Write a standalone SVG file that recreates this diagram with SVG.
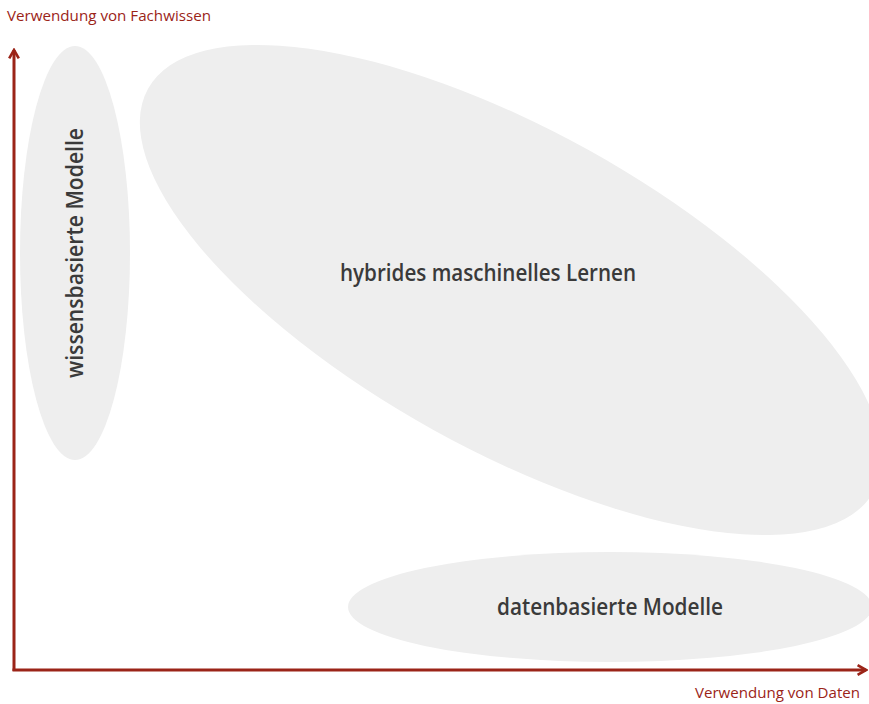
<svg xmlns="http://www.w3.org/2000/svg" width="869" height="704" viewBox="0 0 869 704">
  <style>
    .region { fill: #eeeeee; }
    .region-label { font-family: "Open Sans", "Liberation Sans", Arial, sans-serif; font-weight: 600; font-size: 24px; fill: #3a3a3a; text-anchor: middle; }
    .axis-label { font-family: "Open Sans", "Liberation Sans", Arial, sans-serif; font-size: 15px; fill: #9b2418; }
    .axis { stroke: #9b2418; stroke-width: 3; fill: none; }
  </style>
  <defs>
    <marker id="chevron" viewBox="0 0 10 10" refX="8" refY="5" markerWidth="4" markerHeight="4" orient="auto" markerUnits="strokeWidth">
      <path d="M1,1 L8,5 L1,9" fill="none" stroke="#9b2418" stroke-width="2.2"/>
    </marker>
  </defs>
  <rect width="869" height="704" fill="#ffffff"/>

  <g id="hybrid">
    <ellipse class="region" cx="511" cy="290" rx="415" ry="160" transform="rotate(29 511 290)"/>
    <text class="region-label" x="488" y="281" textLength="296" lengthAdjust="spacingAndGlyphs">hybrides maschinelles Lernen</text>
  </g>
  <g id="knowledge">
    <ellipse class="region" cx="75" cy="253" rx="55" ry="207"/>
    <text class="region-label" transform="translate(83 253) rotate(-90)" x="0" y="0" textLength="250" lengthAdjust="spacingAndGlyphs">wissensbasierte Modelle</text>
  </g>
  <g id="data">
    <ellipse class="region" cx="610" cy="607" rx="262" ry="55"/>
    <text class="region-label" x="610" y="615" textLength="226" lengthAdjust="spacingAndGlyphs">datenbasierte Modelle</text>
  </g>

  <g id="axes">
    <path class="axis" d="M14 671 L14 50" marker-end="url(#chevron)"/>
    <path class="axis" d="M12.5 670 L866 670" marker-end="url(#chevron)"/>
    <text class="axis-label" x="7" y="21" textLength="204" lengthAdjust="spacingAndGlyphs">Verwendung von Fachwissen</text>
    <text class="axis-label" x="695" y="698" textLength="165" lengthAdjust="spacingAndGlyphs">Verwendung von Daten</text>
  </g>
</svg>
